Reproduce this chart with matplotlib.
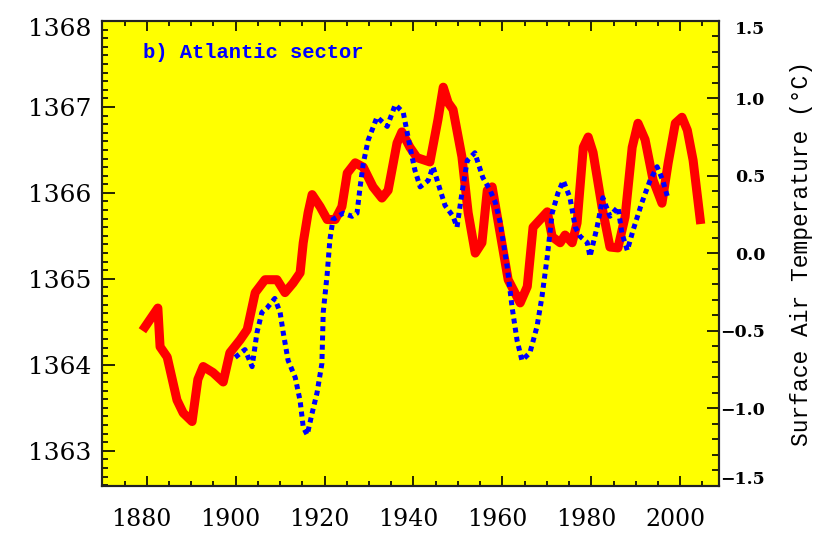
import matplotlib
matplotlib.use("Agg")
import matplotlib.pyplot as plt
import matplotlib.transforms as mtransforms
from matplotlib.ticker import MultipleLocator

# Solar irradiance (left axis, W/m2), red solid
tsi_years = [1879.6, 1882.5, 1883.0, 1884.6, 1886.8, 1888.2, 1890.2, 1891.5, 1892.7, 1894.9,
             1897.2, 1898.7, 1901.0, 1902.6, 1904.4, 1906.6, 1909.3, 1911.1, 1912.9, 1914.5,
             1915.2, 1916.3, 1917.2, 1919.0, 1920.6, 1922.4, 1923.9, 1925.1, 1926.9, 1928.7,
             1930.9, 1932.9, 1934.3, 1936.3, 1937.4, 1939.2, 1940.8, 1943.7, 1945.5, 1946.7,
             1947.8, 1948.9, 1950.9, 1952.3, 1953.9, 1955.4, 1956.6, 1957.7, 1959.5, 1961.3,
             1963.3, 1964.0, 1965.6, 1966.9, 1968.5, 1970.1, 1971.2, 1973.0, 1974.1, 1975.7,
             1976.8, 1978.2, 1979.3, 1980.4, 1982.4, 1984.2, 1986.0, 1987.6, 1989.2, 1990.5,
             1992.1, 1993.9, 1995.9, 1997.3, 1998.9, 2000.4, 2001.6, 2002.9, 2004.5]
tsi_values = [1364.44, 1364.66, 1364.21, 1364.09, 1363.59, 1363.44, 1363.34, 1363.83, 1363.98, 1363.91,
              1363.80, 1364.14, 1364.29, 1364.41, 1364.84, 1364.99, 1364.99, 1364.84, 1364.95, 1365.07,
              1365.42, 1365.77, 1365.98, 1365.84, 1365.69, 1365.69, 1365.84, 1366.23, 1366.35, 1366.30,
              1366.07, 1365.94, 1366.03, 1366.58, 1366.71, 1366.53, 1366.41, 1366.36, 1366.85, 1367.23,
              1367.05, 1366.97, 1366.42, 1365.77, 1365.30, 1365.42, 1366.03, 1366.07, 1365.53, 1364.99,
              1364.79, 1364.72, 1364.91, 1365.60, 1365.69, 1365.78, 1365.49, 1365.42, 1365.51, 1365.42,
              1365.65, 1366.53, 1366.65, 1366.47, 1365.84, 1365.37, 1365.36, 1365.72, 1366.53, 1366.81,
              1366.62, 1366.15, 1365.88, 1366.35, 1366.81, 1366.88, 1366.73, 1366.38, 1365.69]

# Surface air temperature anomaly (right axis, deg C), blue dotted
sat_years = [1899.9, 1902.1, 1903.7, 1904.8, 1905.9, 1907.1, 1908.8, 1910.0, 1910.7, 1911.8,
             1913.4, 1914.5, 1915.2, 1916.1, 1917.2, 1918.3, 1919.4, 1919.7, 1920.6, 1921.2,
             1921.9, 1924.2, 1926.2, 1927.3, 1928.0, 1928.7, 1929.8, 1931.8, 1934.1, 1935.9,
             1937.7, 1939.2, 1940.3, 1941.5, 1943.3, 1944.4, 1946.0, 1947.1, 1948.9, 1949.8,
             1950.9, 1952.1, 1953.8, 1955.6, 1957.2, 1958.4, 1959.5, 1961.1, 1962.2, 1963.3,
             1964.4, 1966.2, 1967.8, 1968.9, 1970.1, 1971.2, 1972.5, 1973.7, 1975.2, 1976.4,
             1977.5, 1979.1, 1979.7, 1981.3, 1982.6, 1984.2, 1986.0, 1986.9, 1988.1, 1989.4,
             1991.4, 1993.2, 1994.8, 1996.1, 1997.3]
sat_values = [-0.67, -0.62, -0.73, -0.51, -0.38, -0.35, -0.29, -0.38, -0.51, -0.69,
              -0.80, -0.95, -1.12, -1.17, -1.03, -0.90, -0.71, -0.38, -0.13, 0.09,
              0.22, 0.26, 0.24, 0.26, 0.43, 0.58, 0.73, 0.88, 0.82, 0.96,
              0.91, 0.69, 0.54, 0.43, 0.47, 0.56, 0.41, 0.31, 0.24, 0.17,
              0.39, 0.60, 0.65, 0.49, 0.41, 0.33, 0.20, -0.09, -0.35, -0.56,
              -0.69, -0.64, -0.47, -0.28, -0.02, 0.26, 0.39, 0.47, 0.36, 0.17,
              0.11, 0.07, -0.02, 0.17, 0.36, 0.24, 0.30, 0.13, 0.02, 0.15,
              0.33, 0.47, 0.56, 0.47, 0.35]

year_ticks = [1880, 1900, 1920, 1940, 1960, 1980, 2000]
tsi_ticks = [1363, 1364, 1365, 1366, 1367, 1368]
sat_ticks = [-1.5, -1.0, -0.5, 0.0, 0.5, 1.0, 1.5]

serif = "DejaVu Serif"
mono = "Liberation Mono"

fig = plt.figure(figsize=(8.15, 5.33), dpi=100)
ax = fig.add_axes([0.1255, 0.0882, 0.7571, 0.8724])
ax.set_facecolor("#FFFF00")

ax.plot(tsi_years, tsi_values, color="#FF0000", lw=6.5, solid_joinstyle="round", zorder=2)
ax.set_xlim(1870, 2008.8)
ax.set_ylim(1362.59, 1368)

ax2 = ax.twinx()
ax2.plot(sat_years, sat_values, color="#0000FF", lw=3.6, dashes=(1.0, 0.85), zorder=3)
ax2.set_ylim(-1.5, 1.5)


def shift(label, dx_px, dy_px):
    off = mtransforms.ScaledTranslation(dx_px / 100, dy_px / 100, fig.dpi_scale_trans)
    label.set_transform(label.get_transform() + off)


# bottom / left axis
ax.set_xticks(year_ticks)
ax.xaxis.set_minor_locator(MultipleLocator(5))
ax.set_yticks(tsi_ticks)
ax.yaxis.set_minor_locator(MultipleLocator(0.1))
ax.tick_params(axis="x", which="both", direction="in", top=True, bottom=True, width=1.2,
               labelsize=17, pad=16)
ax.tick_params(axis="x", which="major", length=7)
ax.tick_params(axis="x", which="minor", length=3.5)
ax.tick_params(axis="y", which="both", direction="in", left=True, right=False, width=1.2,
               labelsize=18, pad=8)
ax.tick_params(axis="y", which="major", length=9)
ax.tick_params(axis="y", which="minor", length=4)
ax.set_xticklabels([str(t) for t in year_ticks], family=serif)
ax.set_yticklabels([str(t) for t in tsi_ticks], family=serif)
for lab in ax.get_xticklabels():
    shift(lab, -5, 0)
shift(ax.get_yticklabels()[-1], 0, -6)

# right axis
ax2.set_yticks(sat_ticks)
ax2.yaxis.set_minor_locator(MultipleLocator(0.1))
ax2.tick_params(axis="y", which="both", direction="in", width=1.2, labelsize=12.5, pad=33)
ax2.tick_params(axis="y", which="major", length=9)
ax2.tick_params(axis="y", which="minor", length=5)
ax2.set_yticklabels([f"{t:.1f}".replace("-", "\u2212") for t in sat_ticks],
                    family=serif, fontweight="bold", ha="right")
shift(ax2.get_yticklabels()[0], 0, 8)
shift(ax2.get_yticklabels()[-1], 0, -6)
ax2.set_ylabel("Surface Air Temperature (\u00b0C)", family=mono, fontsize=16.5)
ax2.yaxis.set_label_coords(1.115, 0.5)

for a in (ax, ax2):
    for sp in a.spines.values():
        sp.set_linewidth(1.5)
        sp.set_color("#222222")

ax.text(0.066, 0.933, "b) Atlantic sector", transform=ax.transAxes, color="#0000FF",
        family=mono, fontweight="bold", fontsize=14.8, va="center", ha="left")

fig.savefig("out.png", dpi=100)
